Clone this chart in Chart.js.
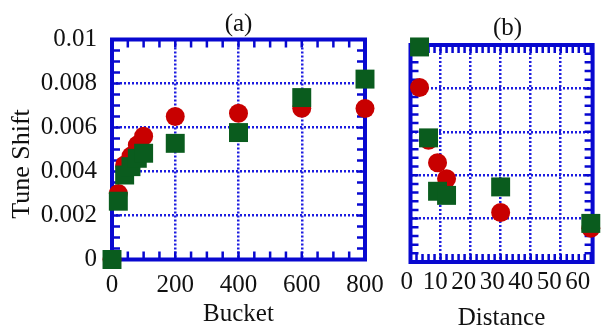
<!DOCTYPE html>
<html>
<head>
<meta charset="utf-8">
<script src="https://cdn.jsdelivr.net/npm/chart.js@4"></script>
<style>
  body { margin: 0; background: #fff; }
  #wrap { position: relative; width: 606px; height: 325px; }
  #wrap canvas { position: absolute; top: 0; }
</style>
</head>
<body>
<div id="wrap">
  <canvas id="chartA" width="395" height="325" style="left:0"></canvas>
  <canvas id="chartB" width="211" height="325" style="left:395px"></canvas>
</div>
<script>
// panel (a): tune shift vs bucket
const buckets = [0, 20, 40, 60, 80, 100, 200, 400, 600, 800];
const bucketCircles = [0, 0.0030, 0.0043, 0.0047, 0.0052, 0.0056, 0.0065, 0.00665, 0.00687, 0.00686];
const bucketSquares = [0, 0.00265, 0.00384, 0.00422, 0.0046, 0.00483, 0.00528, 0.00577, 0.00736, 0.0082];
const bucketTicks = ['0', '200', '400', '600', '800'];
const tuneTicks = ['0', '0.002', '0.004', '0.006', '0.008', '0.01'];

// panel (b): tune shift vs distance
const distances = [3, 6, 9, 12, 30, 60];
const distanceCircles = [0.00804, 0.00561, 0.00457, 0.00384, 0.00228, 0.00155];
const distanceSquares = [0.00991, 0.00572, 0.00326, 0.00307, 0.00346, 0.00178];
const distanceTicks = ['0', '10', '20', '30', '40', '50', '60'];

const BLUE = '#0808d0';
const GRID_BLUE = '#1c1ce0';
const RED = '#c80000';
const GREEN = '#0a5c1e';
const TEXT = '#111';
const FONT = '"Liberation Serif", "DejaVu Serif", serif';

function toPoints(xs, ys) {
    return xs.map((x, i) => ({ x: x, y: ys[i] }));
}

// grid only inside the frame, not on it
function innerGrid(lo, hi) {
    return (ctx) => {
        const v = ctx.tick ? ctx.tick.value : lo;
        return (v > lo + 1e-9 && v < hi - 1e-9) ? GRID_BLUE : 'transparent';
    };
}

// frame, inward minor ticks and the panel labels
const framePlugin = {
    id: 'frame',
    beforeDatasetsDraw(chart, args, opts) {
        const { ctx, chartArea: a } = chart;
        const xs = chart.scales.x, ys = chart.scales.y;
        ctx.save();
        ctx.strokeStyle = BLUE;
        ctx.lineWidth = 2.5;
        ctx.beginPath();
        let n = Math.round((opts.xEnd - xs.min) / opts.xMinor);
        for (let i = 0; i <= n; i++) {
            const p = xs.getPixelForValue(xs.min + i * opts.xMinor);
            ctx.moveTo(p, a.top); ctx.lineTo(p, a.top + opts.len);
            ctx.moveTo(p, a.bottom); ctx.lineTo(p, a.bottom - opts.len);
        }
        n = Math.round((ys.max - ys.min) / opts.yMinor);
        for (let i = 0; i <= n; i++) {
            const p = ys.getPixelForValue(ys.min + i * opts.yMinor);
            ctx.moveTo(a.left, p); ctx.lineTo(a.left + opts.len, p);
            ctx.moveTo(a.right, p); ctx.lineTo(a.right - opts.len, p);
        }
        ctx.stroke();
        ctx.lineWidth = 4;
        ctx.strokeRect(a.left, a.top, a.right - a.left, a.bottom - a.top);

        ctx.fillStyle = TEXT;
        ctx.font = '25px ' + FONT;
        ctx.textAlign = 'center';
        ctx.textBaseline = 'middle';
        ctx.fillText(opts.title, (a.left + a.right) / 2 + opts.titleDx, a.top - opts.titleDy);
        if (opts.yLabel) {
            ctx.translate(22, 164);
            ctx.rotate(-Math.PI / 2);
            ctx.font = '26px ' + FONT;
            ctx.fillText(opts.yLabel, 0, 0);
        }
        ctx.restore();
    }
};

function datasets(xs, circles, squares) {
    return [
        {
            label: 'squares', data: toPoints(xs, squares), pointStyle: 'rect',
            pointRadius: 13.4, pointHoverRadius: 13.4, backgroundColor: GREEN,
            borderWidth: 0, clip: false
        },
        {
            label: 'circles', data: toPoints(xs, circles), pointStyle: 'circle',
            pointRadius: 9.5, pointHoverRadius: 9.5, backgroundColor: RED,
            borderWidth: 0, clip: false
        }
    ];
}

const commonPlugins = {
    legend: { display: false },
    tooltip: { enabled: false }
};

new Chart(document.getElementById('chartA'), {
    type: 'scatter',
    data: { datasets: datasets(buckets, bucketCircles, bucketSquares) },
    options: {
        responsive: false,
        animation: false,
        layout: { padding: { left: 0, right: 30, top: 39.5, bottom: 0 } },
        plugins: Object.assign({
            frame: { title: '(a)', titleDx: 0, titleDy: 15, yLabel: 'Tune Shift', xMinor: 50, xEnd: 800, yMinor: 0.0005, len: 8 }
        }, commonPlugins),
        scales: {
            x: {
                type: 'linear', min: 0, max: 800,
                afterFit(s) { s.height = 65.5; },
                ticks: {
                    stepSize: 200, padding: 11, color: TEXT, maxRotation: 0,
                    font: { family: FONT, size: 25 },
                    callback: (v, i) => bucketTicks[i]
                },
                grid: { drawTicks: false, lineWidth: 2.5, color: innerGrid(0, 800) },
                border: { display: false, dash: [2, 2] },
                title: {
                    display: true, text: 'Bucket', color: TEXT, padding: 0,
                    font: { family: FONT, size: 25, lineHeight: 0.82 }
                }
            },
            y: {
                type: 'linear', min: 0, max: 0.01,
                afterFit(s) { s.width = 112; },
                ticks: {
                    stepSize: 0.002, padding: 15, color: TEXT,
                    font: { family: FONT, size: 25 },
                    callback: (v, i) => tuneTicks[i]
                },
                grid: { drawTicks: false, lineWidth: 2.5, color: innerGrid(0, 0.01) },
                border: { display: false, dash: [2, 2] }
            }
        }
    },
    plugins: [framePlugin]
});

new Chart(document.getElementById('chartB'), {
    type: 'scatter',
    data: { datasets: datasets(distances, distanceCircles, distanceSquares) },
    options: {
        responsive: false,
        animation: false,
        layout: { padding: { left: 0, right: 7.5, top: 45, bottom: 0 } },
        plugins: Object.assign({
            frame: { title: '(b)', titleDx: 6, titleDy: 17, xMinor: 2, xEnd: 60, yMinor: 0.0004, len: 8 }
        }, commonPlugins),
        scales: {
            x: {
                type: 'linear', min: 0, max: 60.6,
                afterFit(s) { s.height = 0; },
                ticks: { display: false, stepSize: 10, includeBounds: false },
                grid: { drawTicks: false, lineWidth: 2.5, color: innerGrid(0, 60) },
                border: { display: false, dash: [2, 2] }
            },
            // label row: the printed numbers sit a little tighter than the grid
            xt: {
                type: 'linear', position: 'bottom', min: 1.29, max: 65.2,
                afterFit(s) { s.height = 63; },
                afterBuildTicks(s) { s.ticks = distanceTicks.map(t => ({ value: Number(t) })); },
                ticks: {
                    autoSkip: false, padding: 5,
                    color: TEXT, maxRotation: 0,
                    font: { family: FONT, size: 25 },
                    callback: (v, i) => distanceTicks[i]
                },
                grid: { display: false, drawTicks: false },
                border: { display: false },
                title: {
                    display: true, text: 'Distance', color: TEXT, padding: 0,
                    font: { family: FONT, size: 25, lineHeight: 0.5 }
                }
            },
            y: {
                type: 'linear', min: 0, max: 0.01,
                afterFit(s) { s.width = 15.5; },
                ticks: { display: false, stepSize: 0.002 },
                grid: { drawTicks: false, lineWidth: 2.5, color: innerGrid(0, 0.01) },
                border: { display: false, dash: [2, 2] }
            }
        }
    },
    plugins: [framePlugin]
});
</script>
</body>
</html>
